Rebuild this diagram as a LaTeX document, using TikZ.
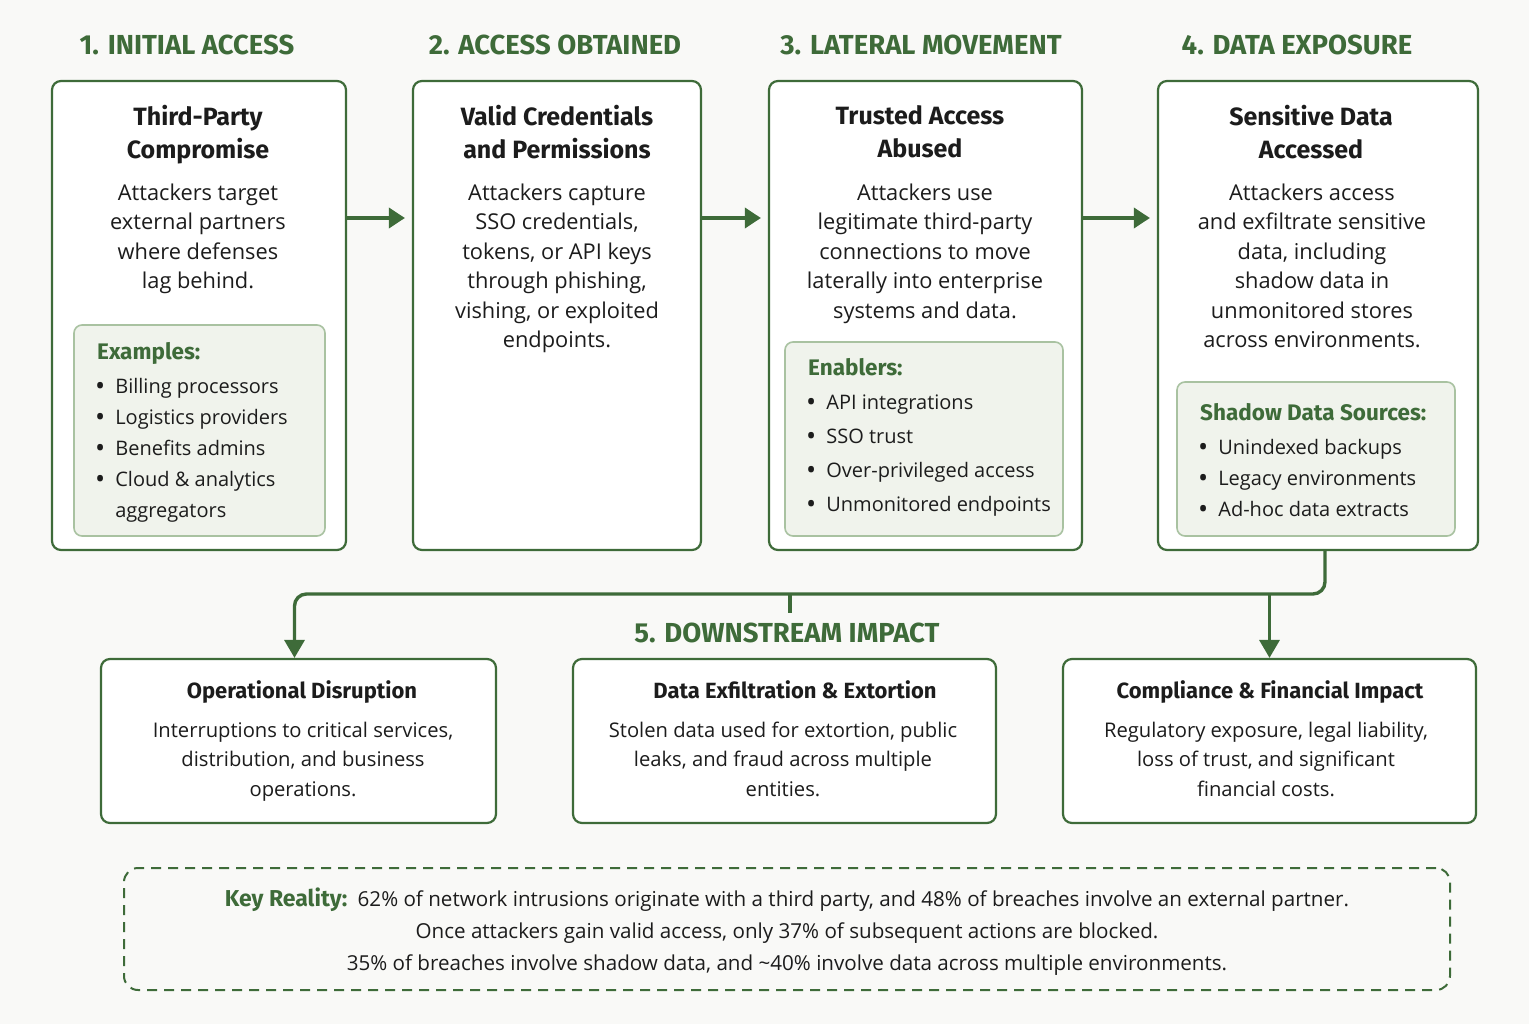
\documentclass[tikz,border=0pt]{standalone}
\usepackage{fontspec}
\setmainfont{Open Sans}
\newfontfamily\headfont{Fira Sans}
\usetikzlibrary{arrows.meta}
\definecolor{dg}{HTML}{3E6B39}
\definecolor{lg}{HTML}{F0F3EC}
\definecolor{lgb}{HTML}{A9C2A1}
\definecolor{bgc}{HTML}{F9F9F7}
\definecolor{txt}{HTML}{1C1C1C}
\newcommand{\bul}{\raisebox{-0.09em}{\scalebox{1.35}{\textbullet}}\enspace}
\begin{document}
\begin{tikzpicture}[x=1pt,y=-1pt,
  bigbox/.style={draw=dg, line width=2.2pt, rounded corners=9pt, fill=white, inner sep=0pt},
  inbox/.style={draw=lgb, line width=1.6pt, rounded corners=8pt, fill=lg, inner sep=0pt},
  head/.style={font=\headfont\bfseries\fontsize{27.5}{30}\selectfont, text=dg, inner sep=0pt},
  ttl/.style={font=\headfont\bfseries\fontsize{25}{33}\selectfont, align=center, text=txt, inner sep=0pt},
  btl/.style={font=\headfont\bfseries\fontsize{22}{28}\selectfont, text=txt, inner sep=0pt},
  body/.style={font=\fontsize{21.8}{29.5}\selectfont, align=center, text=txt, inner sep=0pt},
  bbody/.style={font=\fontsize{20.2}{29.5}\selectfont, align=center, text=txt, inner sep=0pt},
  lsthead/.style={font=\headfont\bfseries\fontsize{22.5}{24}\selectfont, text=dg, inner sep=0pt},
  lst/.style={font=\fontsize{20}{31}\selectfont, align=left, text=txt, inner sep=0pt},
  arr/.style={draw=dg, line width=3.6pt, -{Triangle[length=16pt,width=20pt]}, shorten >=7pt},
  conn/.style={draw=dg, line width=3.4pt, rounded corners=12pt},
  connarr/.style={conn, -{Triangle[length=18pt,width=20pt]}},
  keybox/.style={draw=dg, line width=2pt, dash pattern=on 10pt off 7pt, rounded corners=14pt, inner sep=0pt},
]
\fill[bgc] (0,0) rectangle (1529,1024);
\useasboundingbox (0,0) rectangle (1529,1024);

% stage headers
\node[head] (h1) at (187,45) {1. INITIAL ACCESS};
\node[head] (h2) at (555,45) {2. ACCESS OBTAINED};
\node[head] (h3) at (921,45) {3. LATERAL MOVEMENT};
\node[head] (h4) at (1297,45) {4. DATA EXPOSURE};

% big boxes
\node[bigbox, minimum width=294pt, minimum height=469pt] (b1) at (199,315.5) {};
\node[bigbox, minimum width=288pt, minimum height=469pt] (b2) at (557,315.5) {};
\node[bigbox, minimum width=313pt, minimum height=469pt] (b3) at (925.5,315.5) {};
\node[bigbox, minimum width=320pt, minimum height=469pt] (b4) at (1318,315.5) {};

% inner boxes
\node[inbox, minimum width=251pt, minimum height=211pt] (i1) at (199.5,430.5) {};
\node[inbox, minimum width=278pt, minimum height=194pt] (i3) at (924,439) {};
\node[inbox, minimum width=278pt, minimum height=154pt] (i4) at (1316,459) {};

% titles
\node[ttl, anchor=north] (t1) at (198,105.5) {Third-Party\\Compromise};
\node[ttl, anchor=north] (t2) at (557,105.5) {Valid Credentials\\and Permissions};
\node[ttl, anchor=north] (t3) at (920,105.5) {Trusted Access\\Abused};
\node[ttl, anchor=north] (t4) at (1311,105.5) {Sensitive Data\\Accessed};

% body texts
\node[body, anchor=north] (d1) at (198,183.5) {Attackers target\\external partners\\where defenses\\lag behind.};
\node[body, anchor=north] (d2) at (557,183.5) {Attackers capture\\SSO credentials,\\tokens, or API keys\\through phishing,\\vishing, or exploited\\endpoints.};
\node[body, anchor=north] (d3) at (925,183.5) {Attackers use\\legitimate third-party\\connections to move\\laterally into enterprise\\systems and data.};
\node[body, anchor=north] (d4) at (1312,183.5) {Attackers access\\and exfiltrate sensitive\\data, including\\shadow data in\\unmonitored stores\\across environments.};

% lists
\node[lsthead, anchor=west] (e1) at (97,353) {Examples:};
\node[lst, anchor=north west] (l1) at (95,378.5) {\bul Billing processors\\\bul Logistics providers\\\bul Benefits admins\\\bul Cloud \& analytics\\\phantom{\bul}aggregators};
\node[lsthead, anchor=west] (e3) at (808,367) {Enablers:};
\node[lst, anchor=north west, font=\fontsize{20}{34}\selectfont] (l3) at (806,394.5) {\bul API integrations\\\bul SSO trust\\\bul Over-privileged access\\\bul Unmonitored endpoints};
\node[lsthead, anchor=west] (e4) at (1200,412) {Shadow Data Sources:};
\node[lst, anchor=north west] (l4) at (1198,439.5) {\bul Unindexed backups\\\bul Legacy environments\\\bul Ad-hoc data extracts};

% arrows between stages
\coordinate (ay) at (0,218);
\draw[arr] (b1.east |- ay) -- (b2.west |- ay);
\draw[arr] (b2.east |- ay) -- (b3.west |- ay);
\draw[arr] (b3.east |- ay) -- (b4.west |- ay);

% downstream boxes
\node[bigbox, minimum width=395pt, minimum height=164pt] (o1) at (298.5,741) {};
\node[bigbox, minimum width=423pt, minimum height=164pt] (o2) at (784.5,741) {};
\node[bigbox, minimum width=413pt, minimum height=164pt] (o3) at (1269.5,741) {};

\node[head] (h5) at (787,633) {5. DOWNSTREAM IMPACT};

\node[btl] (ot1) at (302,692) {Operational Disruption};
\node[btl] (ot2) at (795,690) {Data Exfiltration \& Extortion};
\node[btl] (ot3) at (1270,692) {Compliance \& Financial Impact};
\node[bbody, anchor=north] (od1) at (303,721.5) {Interruptions to critical services,\\distribution, and business\\operations.};
\node[bbody, anchor=north] (od2) at (783,721.5) {Stolen data used for extortion, public\\leaks, and fraud across multiple\\entities.};
\node[bbody, anchor=north] (od3) at (1266,721.5) {Regulatory exposure, legal liability,\\loss of trust, and significant\\financial costs.};

% connectors to downstream
\coordinate (bus) at (790,594);
\coordinate (tick) at (790,613);
\draw[connarr] ([xshift=7pt]b4.south) |- (bus) -| ([xshift=-4pt]o1.north);
\draw[connarr] (o3.north |- bus) -- (o3.north);
\draw[conn] (bus) -- (tick);

% key reality
\node[keybox, minimum width=1326pt, minimum height=122pt] (kb) at (787,929) {};
\node[body, anchor=north, font=\fontsize{20.6}{32}\selectfont] (kt) at (787,887.5) {{\headfont\bfseries\fontsize{23}{32}\selectfont\color{dg}Key Reality:}\enspace 62\% of network intrusions originate with a third party, and 48\% of breaches involve an external partner.\\Once attackers gain valid access, only 37\% of subsequent actions are blocked.\\35\% of breaches involve shadow data, and \textasciitilde40\% involve data across multiple environments.};
\end{tikzpicture}
\end{document}
